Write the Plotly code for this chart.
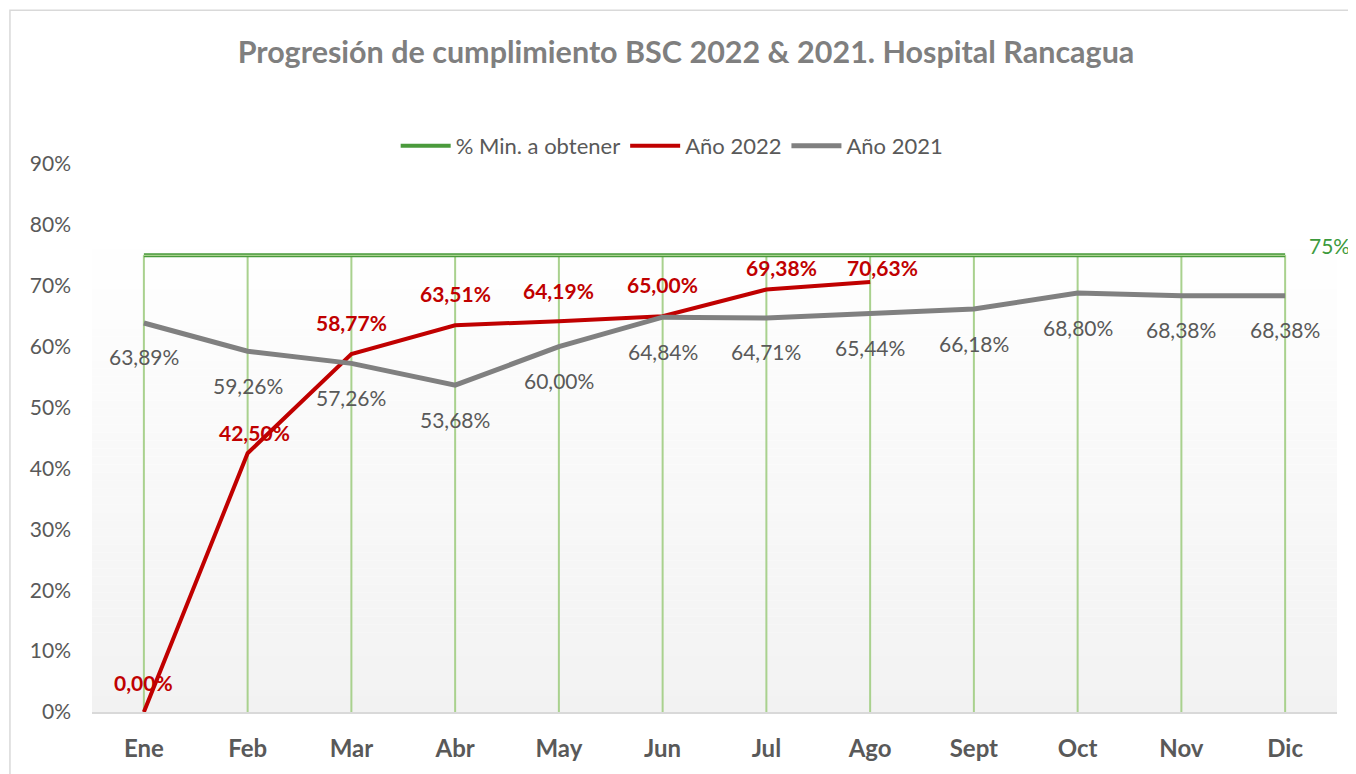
import plotly.graph_objects as go

months = ["Ene", "Feb", "Mar", "Abr", "May", "Jun", "Jul", "Ago", "Sept", "Oct", "Nov", "Dic"]
min_target = [0.75] * 12
year_2022 = [0.0, 0.4250, 0.5877, 0.6351, 0.6419, 0.6500, 0.6938, 0.7063]
year_2021 = [0.6389, 0.5926, 0.5726, 0.5368, 0.6000, 0.6484, 0.6471, 0.6544, 0.6618, 0.6880, 0.6838, 0.6838]
y_ticks = [0, 0.1, 0.2, 0.3, 0.4, 0.5, 0.6, 0.7, 0.8, 0.9]

# label offsets for 2022 series (pixels, style only)
red_dy = [30, 21, 32, 32, 31, 32, 22, 14]
red_dx = [0, 7, 0, 0, 0, 0, 15, 12]

FONT = "Lato"
GRAY_TXT = "#595959"

# the page adds an 8px body margin; size the figure to fit the window
W, H = 1348, 766


def pct(v):
    return f"{v*100:.2f}%".replace(".", ",")


fig = go.Figure()

# background gradient (plot area)
n_steps = 60
top_val = 0.787
for i in range(n_steps):
    y0 = top_val * i / n_steps
    y1 = top_val * (i + 1) / n_steps
    t = (i + 0.5) / n_steps  # 0 bottom -> 1 top
    c = int(round(242 + (255 - 242) * t))
    fig.add_shape(type="rect", xref="paper", yref="y", x0=0, x1=1, y0=y0, y1=y1,
                  fillcolor=f"rgb({c},{c},{c})", line=dict(width=0), layer="below")

# drop lines
dx, dy = [], []
for m, v in zip(months, min_target):
    dx += [m, m, None]
    dy += [0, v, None]
fig.add_trace(go.Scatter(x=dx, y=dy, mode="lines", line=dict(color="#a9d18e", width=2),
                         showlegend=False, hoverinfo="skip"))

# minimum target line (double line effect)
fig.add_trace(go.Scatter(x=months, y=min_target, mode="lines", name="% Min. a obtener",
                         line=dict(color="#4a9a3c", width=4), legendgroup="min"))
fig.add_trace(go.Scatter(x=months, y=min_target, mode="lines", showlegend=False,
                         line=dict(color="#a9d18e", width=1.2), legendgroup="min", hoverinfo="skip"))

fig.add_trace(go.Scatter(x=months[:len(year_2022)], y=year_2022, mode="lines", name="Año 2022",
                         line=dict(color="#c00000", width=4)))
fig.add_trace(go.Scatter(x=months, y=year_2021, mode="lines", name="Año 2021",
                         line=dict(color="#808080", width=5)))

annotations = []
for i, (m, v) in enumerate(zip(months, year_2021)):
    annotations.append(dict(x=m, y=v, text=pct(v), showarrow=False, yshift=-34,
                            font=dict(family=FONT, size=21, color=GRAY_TXT)))
for i, (m, v) in enumerate(zip(months, year_2022)):
    annotations.append(dict(x=m, y=v, text=pct(v), showarrow=False, yshift=red_dy[i], xshift=red_dx[i],
                            font=dict(family=FONT, size=21, color="#c00000", weight="bold")))
annotations.append(dict(x=months[-1], y=min_target[-1], text=f"{min_target[-1]*100:.0f}%", showarrow=False,
                        xanchor="left", xshift=22, yshift=10,
                        font=dict(family=FONT, size=21, color="#3c9a3c")))

# chart border
fig.add_shape(type="rect", xref="paper", yref="paper", x0=-0.0659, x1=1.03, y0=-0.2, y1=1.2805,
              line=dict(color="#d9d9d9", width=1.5), fillcolor="rgba(0,0,0,0)", layer="below")

fig.update_layout(
    width=W, height=H,
    margin=dict(l=84, r=19, t=156, b=53),
    paper_bgcolor="white", plot_bgcolor="rgba(0,0,0,0)",
    title=dict(text="<b>Progresión de cumplimiento BSC 2022 & 2021. Hospital Rancagua</b>",
               x=678 / W, xref="container", xanchor="center",
               y=1 - 44 / H, yref="container", yanchor="middle",
               font=dict(family=FONT, size=30.5, color="#7f7f7f")),
    legend=dict(orientation="h", x=0.466, xanchor="center", y=1.033, yanchor="middle",
                font=dict(family=FONT, size=22, color=GRAY_TXT), bgcolor="rgba(0,0,0,0)",
                itemwidth=50, tracegroupgap=0),
    xaxis=dict(type="category", categoryorder="array", categoryarray=months, range=[-0.5, 11.5],
               showgrid=False, zeroline=False, showline=True, linecolor="#d9d9d9", linewidth=1.5,
               ticks="", ticklabelstandoff=14,
               tickfont=dict(family=FONT, size=24, color=GRAY_TXT, weight="bold")),
    yaxis=dict(range=[0, 0.9], tickvals=y_ticks, tickformat=".0%", showgrid=False, zeroline=False,
               showline=False, ticks="", ticklabelstandoff=20,
               tickfont=dict(family=FONT, size=21, color=GRAY_TXT)),
    annotations=annotations,
    showlegend=True,
)

fig.write_html("out.html")
